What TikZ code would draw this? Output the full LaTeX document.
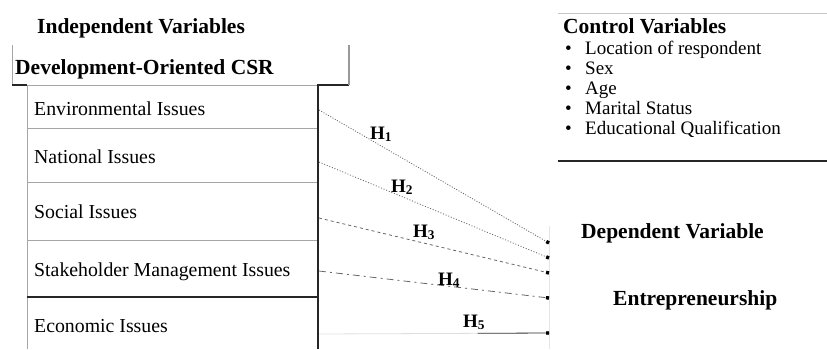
\documentclass[tikz,border=0pt]{standalone}
\usepackage{fontspec}
\setmainfont{Liberation Serif}
\usetikzlibrary{arrows.meta,calc}
\begin{document}
\begin{tikzpicture}[x=1pt,y=-1pt,
  title/.style={anchor=base west,inner sep=0pt,font=\fontsize{21.5}{24}\selectfont\bfseries},
  issue/.style={anchor=base west,inner sep=0pt,font=\fontsize{19.8}{23}\selectfont},
  item/.style={anchor=base west,inner sep=0pt,font=\fontsize{19}{22}\selectfont},
  hyp/.style={anchor=base west,inner sep=0pt,font=\fontsize{19}{21}\selectfont\bfseries},
  thinrule/.style={draw=gray!70,line width=0.9pt},
  thickrule/.style={draw=black!85,line width=1.8pt},
  link/.style={draw=black!60,line width=0.8pt,-{Square[length=3pt,width=3.4pt,color=black,fill=black]}},
]
\useasboundingbox (0,0) rectangle (827,349);

% ---- independent variables ----
\node[title] (indep) at (37,33) {Independent Variables};
\node[title] (csr) at (15,74) {Development-Oriented CSR};

% CSR header frame
\draw[thinrule] (12,45) -- (12,85);
\draw[thickrule] (12,85) -- (27,85);
\draw[thickrule] (317,85) -- (349,85);
\draw[draw=gray!80,line width=1.2pt] (349,45) -- (349,85);

% issue column
\draw[thinrule] (27,85) -- (317,85);
\draw[thinrule] (27,85) -- (27,349);
\draw[thinrule] (27,128) -- (318,128);
\draw[thinrule] (27,182) -- (318,182);
\draw[thinrule] (27,240) -- (318,240);
\draw[thickrule] (27,297) -- (318,297);
\draw[thickrule] (318,85) -- (318,349);

\node[issue] (env) at (34,115) {Environmental Issues};
\node[issue] (nat) at (34,163) {National Issues};
\node[issue] (soc) at (34,218) {Social Issues};
\node[issue] (stk) at (34,276) {Stakeholder Management Issues};
\node[issue] (eco) at (34,332) {Economic Issues};

% ---- control variables ----
\draw[draw=gray!45,line width=0.8pt] (558,13) -- (827,13);
\draw[thickrule] (558,161) -- (827,161);
\node[title] (ctrl) at (563,33) {Control Variables};
\foreach \t [count=\i] in {Location of respondent, Sex, Age, Marital Status, Educational Qualification}{
  \node[item] (b\i) at (565,{54+20.2*(\i-1)}) {•};
  \node[item] (c\i) at (585,{54+20.2*(\i-1)}) {\t};
}

% ---- dependent variable ----
\draw[draw=gray!20,line width=0.6pt] (549,226) -- (549,349);
\node[title] (dep) at (581,238) {Dependent Variable};
\node[title] (entre) at (613,305) {Entrepreneurship};

% ---- hypothesised paths ----
\coordinate (s1) at (319,110);
\coordinate (s2) at (319,162);
\coordinate (s3) at (319,218);
\coordinate (s4) at (319,271);
\coordinate (s5) at (319,334);
\coordinate (t1) at (549,243);
\coordinate (t2) at (549,258);
\coordinate (t3) at (549,273);
\coordinate (t4) at (549,298);
\coordinate (t5) at (549,333);

\draw[link,dash pattern=on 1pt off 1.6pt] (s1) -- (t1);
\draw[link,dash pattern=on 1pt off 1.8pt] (s2) -- (t2);
\draw[link,dash pattern=on 3pt off 3pt] (s3) -- (t3);
\draw[link,dash pattern=on 7pt off 4pt on 2pt off 4pt] (s4) -- (t4);
\draw[draw=gray!25,line width=0.8pt] (s5) -- (t5);
\draw[link,draw=black!75] ($(s5)!0.69!(t5)$) -- (t5);

\node[hyp] (h1) at (370,139) {H\textsubscript{1}};
\node[hyp] (h2) at (391,192) {H\textsubscript{2}};
\node[hyp] (h3) at (413,237) {H\textsubscript{3}};
\node[hyp] (h4) at (438,285) {H\textsubscript{4}};
\node[hyp] (h5) at (463,327) {H\textsubscript{5}};
\end{tikzpicture}
\end{document}
